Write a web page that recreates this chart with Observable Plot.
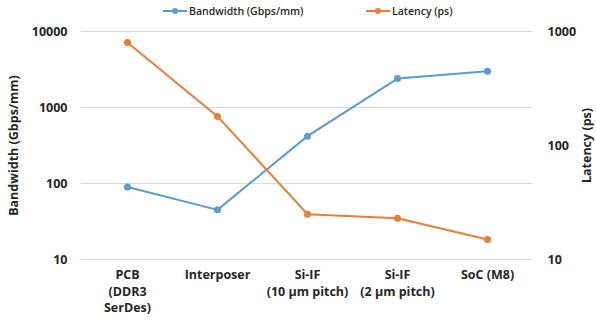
<!DOCTYPE html>
<html>
<head>
<meta charset="utf-8">
<script src="https://cdn.jsdelivr.net/npm/d3@7"></script>
<script src="https://cdn.jsdelivr.net/npm/@observablehq/plot@0.6"></script>
<style>
  html, body { margin: 0; padding: 0; background: #fff; }
  body { width: 596px; height: 327px; overflow: hidden; font-family: "Open Sans", sans-serif; }
  #legend { height: 24px; position: relative; font-size: 10.5px; font-weight: 600; color: #262626; }
  .item { position: absolute; top: 4px; display: flex; align-items: center; white-space: nowrap; }
  .item svg { margin-right: 2px; }
</style>
</head>
<body>
<div id="legend"></div>
<div id="chart"></div>
<script>
const categories = ["PCB\n(DDR3\nSerDes)", "Interposer", "Si-IF\n(10 µm pitch)", "Si-IF\n(2 µm pitch)", "SoC (M8)"];
const bandwidth = [90, 45, 420, 2400, 3000];
const latency = [800, 180, 25, 23, 15];
const leftTicks = [10, 100, 1000, 10000];
const rightTicks = [10, 100, 1000];
const seriesNames = ["Bandwidth (Gbps/mm)", "Latency (ps)"];
const colors = ["#5B9BD5", "#ED7D31"];

// right axis (latency, 10..1000) mapped onto left log scale (10..10000)
const toLeft = v => 10 * Math.pow(v / 10, 1.5);
const fromLeft = v => 10 * Math.pow(v / 10, 1 / 1.5);

const bwData = categories.map((c, i) => ({cat: c, value: bandwidth[i]}));
const latData = categories.map((c, i) => ({cat: c, value: toLeft(latency[i])}));

// legend
const legend = document.getElementById("legend");
const lefts = [163, 366];
seriesNames.forEach((name, i) => {
  const it = document.createElement("div");
  it.className = "item";
  it.style.left = lefts[i] + "px";
  it.innerHTML = `<svg width="24" height="10"><line x1="0" x2="24" y1="5" y2="5" stroke="${colors[i]}" stroke-width="2"/><circle cx="12" cy="5" r="3" fill="${colors[i]}"/></svg><span>${name}</span>`;
  legend.appendChild(it);
});

const chart = Plot.plot({
  width: 596,
  height: 303,
  marginTop: 7,
  marginBottom: 68,
  marginLeft: 81,
  marginRight: 63,
  style: {fontFamily: "Open Sans, sans-serif", fontSize: "12.5px", fontWeight: 700, color: "#262626", background: "#fff", overflow: "visible"},
  x: {type: "point", domain: categories, padding: 0.5},
  y: {type: "log", domain: [10, 10000]},
  marks: [
    Plot.ruleY(leftTicks, {stroke: "#d9d9d9", strokeWidth: 1.2}),
    Plot.axisX({tickSize: 0, tickPadding: 8, lineHeight: 1.32, label: null, fontWeight: 700}),
    Plot.axisY({anchor: "left", ticks: leftTicks, tickFormat: d => String(d), tickSize: 0, tickPadding: 14,
      label: "Bandwidth (Gbps/mm)", labelAnchor: "center", labelArrow: "none", labelOffset: 72, fontWeight: 700}),
    Plot.axisY({anchor: "right", ticks: rightTicks.map(toLeft), tickFormat: d => String(Math.round(fromLeft(d))), tickSize: 0, tickPadding: 14,
      label: "Latency (ps)", labelAnchor: "center", labelArrow: "none", labelOffset: 57, fontWeight: 700}),
    Plot.line(bwData, {x: "cat", y: "value", stroke: colors[0], strokeWidth: 2}),
    Plot.dot(bwData, {x: "cat", y: "value", fill: colors[0], r: 3.5}),
    Plot.line(latData, {x: "cat", y: "value", stroke: colors[1], strokeWidth: 2}),
    Plot.dot(latData, {x: "cat", y: "value", fill: colors[1], r: 3.5})
  ]
});
document.getElementById("chart").appendChild(chart);
</script>
</body>
</html>
